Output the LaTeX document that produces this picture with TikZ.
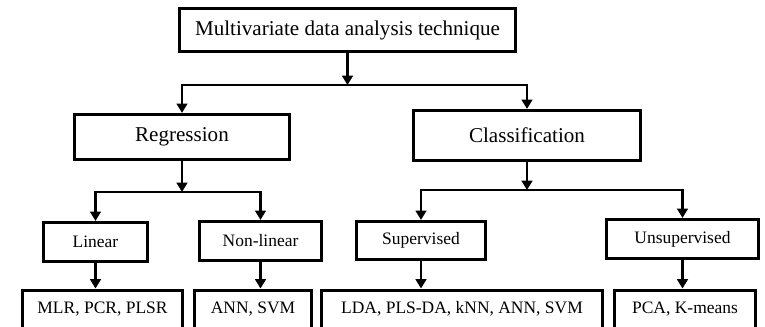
\documentclass[tikz,border=0pt]{standalone}
\usepackage{fontspec}
\setmainfont{Liberation Serif}
\usetikzlibrary{arrows.meta}
\begin{document}
\begin{tikzpicture}[x=0.75pt,y=-0.75pt,
 box/.style={draw, line width=2.4pt, rectangle, inner sep=0pt, align=center},
 big/.style={font=\fontsize{15.8pt}{18pt}\selectfont},
 small/.style={font=\fontsize{13.1pt}{15pt}\selectfont},
 leaf/.style={box, small, anchor=north, minimum height=33pt, text height=9pt, text depth=6.5pt},
 link/.style={line width=2.1pt},
 arr/.style={link, -{Triangle[length=7pt,width=8pt]}}]
\useasboundingbox (0,0) rectangle (765,326);
\clip (0,0) rectangle (765,326);
% level 1
\node[box, big, minimum width=252pt, minimum height=32.25pt] (top) at (347.5,30) {Multivariate data analysis technique};
% level 2
\node[box, big, minimum width=161.25pt, minimum height=33.75pt] (reg) at (182,137) {Regression};
\node[box, big, minimum width=170.25pt, minimum height=37.5pt] (cls) at (527,135.5) {Classification};
% level 3
\node[box, small, minimum width=78pt, minimum height=29.25pt] (lin) at (95.5,242) {Linear};
\node[box, small, minimum width=91.5pt, minimum height=29.25pt] (nonlin) at (260.5,241) {Non-linear};
\node[box, small, minimum width=96.75pt, minimum height=28.5pt] (sup) at (421,240.5) {Supervised};
\node[box, small, minimum width=114pt, minimum height=29.25pt] (unsup) at (682.5,239) {Unsupervised};
% level 4
\node[leaf, minimum width=120pt] (mlr) at (102.5,288.5) {MLR, PCR, PLSR};
\node[leaf, minimum width=87.75pt] (ann) at (253,288.5) {ANN, SVM};
\node[leaf, minimum width=210.75pt] (lda) at (462,288.5) {LDA, PLS-DA,\ kNN, ANN,\ SVM};
\node[leaf, minimum width=105.75pt] (pca) at (685,288.5) {PCA, K-means};
% junctions
\coordinate (j1) at (347.5,85);
\coordinate (j2) at (182,192);
\coordinate (j3) at (527,190);
% connectors
\draw[arr] (top.south) -- (j1);
\draw[arr] (j1) -| (reg.north);
\draw[arr] (j1) -| (cls.north);
\draw[arr] (reg.south) -- (j2);
\draw[arr] (j2) -| (lin.north);
\draw[arr] (j2) -| (nonlin.north);
\draw[arr] (cls.south) -- (j3);
\draw[arr] (j3) -| (sup.north);
\draw[arr] (j3) -| (unsup.north);
\draw[arr] (lin.south) -- (lin.south |- mlr.north);
\draw[arr] (nonlin.south) -- (nonlin.south |- ann.north);
\draw[arr] (sup.south) -- (sup.south |- lda.north);
\draw[arr] (unsup.south) -- (unsup.south |- pca.north);
\end{tikzpicture}
\end{document}
